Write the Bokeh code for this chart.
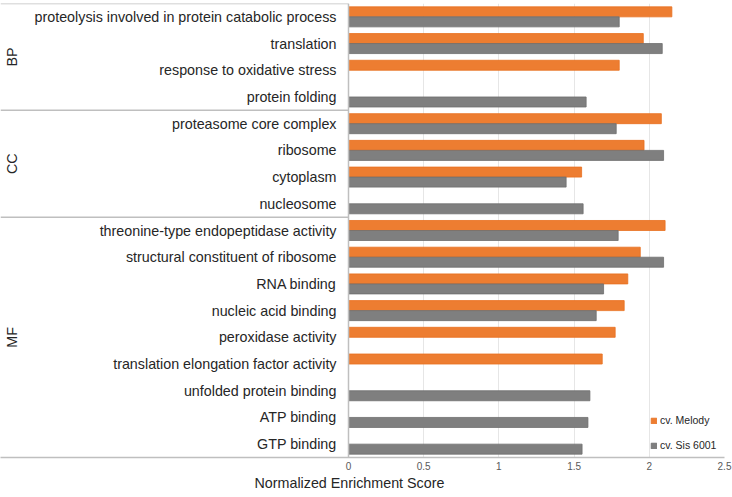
import math
from bokeh.plotting import figure
from bokeh.models import ColumnDataSource, Range1d, FixedTicker, Legend, LegendItem, Title
from bokeh.core.properties import value
from bokeh.embed import file_html
from bokeh.resources import INLINE

# ---- data ----
groups = ["BP", "CC", "MF"]
group_sizes = [4, 4, 9]
categories = [
    "proteolysis involved in protein catabolic process",
    "translation",
    "response to oxidative stress",
    "protein folding",
    "proteasome core complex",
    "ribosome",
    "cytoplasm",
    "nucleosome",
    "threonine-type endopeptidase activity",
    "structural constituent of ribosome",
    "RNA binding",
    "nucleic acid binding",
    "peroxidase activity",
    "translation elongation factor activity",
    "unfolded protein binding",
    "ATP binding",
    "GTP binding",
]
melody = [2.15, 1.96, 1.80, None, 2.08, 1.965, 1.55, None,
          2.105, 1.94, 1.857, 1.833, 1.773, 1.687, None, None, None]
sis6001 = [1.80, 2.086, None, 1.58, 1.78, 2.095, 1.447, 1.56,
           1.793, 2.095, 1.696, 1.647, None, None, 1.605, 1.592, 1.553]
x_ticks = [0, 0.5, 1, 1.5, 2, 2.5]
series_names = ["cv. Melody", "cv. Sis 6001"]
x_title = "Normalized Enrichment Score"

# ---- layout ----
W, H = 732, 497
border_right = 8
border_top = 3
border_bottom = 40
zero_px = 348
xmax = 2.5
ppu = (W - border_right - zero_px) / xmax
xmin = -zero_px / ppu
n = len(categories)

FONT = "Liberation Sans"
LABEL_SIZE = "14.3px"
ORANGE = "#ED7D31"
GRAY = "#7F7F7F"
LINE = "#BFBFBF"
TEXT = "#262626"

p = figure(width=W, height=H, output_backend="svg", toolbar_location=None,
           x_range=Range1d(xmin, xmax), y_range=Range1d(n, 0),
           min_border_left=0, min_border_right=border_right,
           min_border_top=border_top, min_border_bottom=border_bottom)
p.outline_line_color = None
p.background_fill_color = "white"
p.yaxis.visible = False
p.ygrid.visible = False

ticker = FixedTicker(ticks=x_ticks)
p.xaxis.ticker = ticker
p.xgrid.ticker = ticker
p.xgrid.grid_line_color = "#E6E6E6"
p.xgrid.grid_line_width = 1
p.xaxis.axis_line_color = LINE
p.xaxis.axis_line_width = 1.5
p.xaxis.major_tick_line_color = None
p.xaxis.minor_tick_line_color = None
p.xaxis.major_tick_out = 0
p.xaxis.major_tick_in = 0
p.xaxis.major_label_standoff = 4
p.xaxis.major_label_text_font = FONT
p.xaxis.major_label_text_font_size = "10px"
p.xaxis.major_label_text_color = "#595959"

p.add_layout(Title(text=x_title, align="left", offset=254,
                   text_font=FONT, text_font_size=LABEL_SIZE,
                   text_font_style="normal", text_color=TEXT,
                   standoff=0), "below")

# bars
bar_h = 0.375
rows = [i + 0.5 for i in range(n)]
m_src = ColumnDataSource(dict(
    y=[r - bar_h / 2 for r, v in zip(rows, melody) if v is not None],
    v=[v for v in melody if v is not None]))
s_src = ColumnDataSource(dict(
    y=[r + bar_h / 2 for r, v in zip(rows, sis6001) if v is not None],
    v=[v for v in sis6001 if v is not None]))
r_m = p.hbar(y="y", right="v", left=0, height=bar_h, source=m_src,
             fill_color=ORANGE, line_color="#E8701F", line_width=0.8)
r_s = p.hbar(y="y", right="v", left=0, height=bar_h, source=s_src,
             fill_color=GRAY, line_color="#6E6E6E", line_width=0.8)

# vertical axis line at 0
p.segment(x0=[0], y0=[0], x1=[0], y1=[n], line_color=LINE, line_width=1.5)

# group separators (left area)
bounds = [0]
for s in group_sizes:
    bounds.append(bounds[-1] + s)
p.segment(x0=[xmin] * (len(bounds) - 1), y0=bounds[:-1],
          x1=[0] * (len(bounds) - 1), y1=bounds[:-1],
          line_color=LINE, line_width=1.5)

# category labels
lab_x = -12 / ppu
p.text(x=[lab_x] * n, y=rows, text=categories, text_align="right",
       text_baseline="middle", text_font=value(FONT),
       text_font_size=LABEL_SIZE, text_color=TEXT)

# group labels (rotated)
gx = (11 - zero_px) / ppu
gy = [(bounds[i] + bounds[i + 1]) / 2 for i in range(len(groups))]
p.text(x=[gx] * len(groups), y=gy, text=groups, angle=math.pi / 2,
       text_align="center", text_baseline="middle", text_font=value(FONT),
       text_font_size=LABEL_SIZE, text_color=TEXT)

legend = Legend(items=[LegendItem(label=series_names[0], renderers=[r_m]),
                       LegendItem(label=series_names[1], renderers=[r_s])],
                location=(650, 2), orientation="vertical",
                padding=0, margin=0, spacing=5,
                glyph_width=7, glyph_height=7, label_height=20,
                label_standoff=3, label_text_font=FONT,
                label_text_font_size="10.5px", label_text_color=TEXT,
                border_line_color=None, background_fill_alpha=0)
p.add_layout(legend)

open("out.html", "w").write(file_html(p, INLINE))
